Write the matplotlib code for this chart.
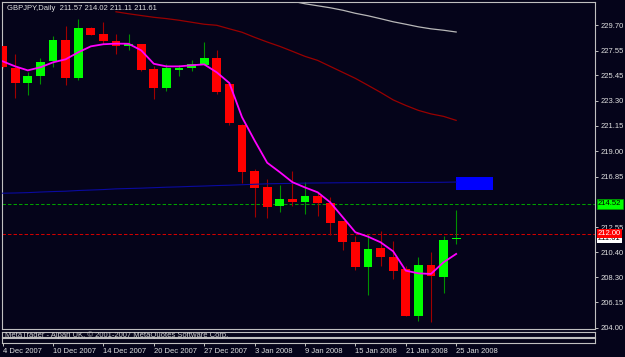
import numpy as np
import matplotlib
matplotlib.use('Agg')
import matplotlib.pyplot as plt
from matplotlib.patches import Rectangle
from matplotlib.transforms import blended_transform_factory

plt.rcParams.update({'font.family': 'Liberation Sans', 'font.size': 5.5})

# ---- datos (GBPJPY diario) ----
symbol_title = "GBPJPY,Daily  211.57 214.02 211.11 211.61"
opens  = [227.91, 226.07, 224.77, 225.42, 226.66, 228.43, 225.25, 229.51, 228.96, 228.34,
          228.00, 228.11, 226.02, 224.40, 225.96, 226.07, 226.36, 226.95, 224.74, 221.25,
          217.30, 215.94, 214.32, 214.95, 214.72, 215.23, 214.58, 213.05, 211.26, 209.13,
          210.75, 210.04, 208.99, 205.02, 209.36, 208.34, 211.57]
highs  = [227.95, 227.29, 225.73, 226.95, 228.77, 229.62, 230.21, 229.55, 229.96, 229.00,
          229.00, 228.15, 226.21, 226.44, 226.36, 226.78, 228.28, 227.57, 224.88, 221.30,
          217.51, 216.66, 216.14, 217.28, 216.37, 215.51, 215.09, 213.11, 211.83, 211.97,
          212.26, 211.40, 209.28, 209.98, 210.41, 211.83, 214.02]
lows   = [226.10, 223.55, 223.74, 224.68, 226.15, 224.60, 225.02, 228.85, 228.09, 227.23,
          227.57, 225.81, 223.40, 224.11, 225.42, 225.79, 226.30, 223.89, 221.19, 216.26,
          213.45, 213.30, 213.87, 214.32, 213.68, 213.47, 211.89, 210.61, 208.91, 206.81,
          209.28, 208.14, 205.00, 204.60, 204.45, 206.92, 211.11]
closes = [226.15, 224.77, 225.42, 226.61, 228.43, 225.25, 229.51, 228.91, 228.34, 227.97,
          228.11, 225.93, 224.40, 226.07, 226.07, 226.41, 226.95, 224.03, 221.39, 217.22,
          215.89, 214.24, 214.95, 214.72, 215.23, 214.58, 212.88, 211.32, 209.13, 210.70,
          210.04, 208.79, 205.02, 209.36, 208.43, 211.49, 211.61]

# medias moviles
ma_fast = [226.64, 226.21, 225.87, 226.13, 226.55, 226.81, 227.40, 227.91, 228.09, 228.14,
           228.13, 227.57, 226.43, 226.21, 226.21, 226.30, 226.38, 225.70, 224.79, 221.90,
           219.91, 218.02, 217.22, 216.37, 215.92, 215.51, 214.66, 213.39, 212.11, 211.74,
           211.26, 210.49, 208.85, 208.62, 208.57, 209.56, 210.27]
ma_mid = [np.nan]*9 + [230.85, 230.68, 230.53, 230.38, 230.27, 230.13, 229.96, 229.79, 229.70,
          229.40, 229.11, 228.68, 228.28, 227.91, 227.49, 227.06, 226.72, 226.21, 225.70,
          225.19, 224.60, 224.00, 223.36, 222.89, 222.47, 222.17, 221.96, 221.62]
ma_slow = [np.nan]*23 + [231.75, 231.53, 231.36, 231.19, 230.98, 230.72, 230.51, 230.26,
           230.00, 229.79, 229.57, 229.40, 229.28, 229.13]
ma_long = [215.43, 215.45, 215.48, 215.53, 215.57, 215.60, 215.66, 215.70, 215.74, 215.80,
           215.83, 215.86, 215.90, 215.94, 215.97, 216.01, 216.04, 216.08, 216.11, 216.15,
           216.19, 216.23, 216.25, 216.27, 216.29, 216.30, 216.31, 216.32, 216.33, 216.33,
           216.34, 216.34, 216.34, 216.35, 216.35, 216.36, 216.38]

# niveles y caja
level_green = 214.52
level_red = 212.00
last_price = 211.61
box_start, box_end = 36.0, 38.94
box_low, box_high = 215.74, 216.85

price_ticks = [229.70, 227.55, 225.45, 223.30, 221.15, 219.00, 216.85,
               212.55, 210.40, 208.30, 206.15, 204.00]
date_ticks = [0, 4, 8, 12, 16, 20, 24, 28, 32, 36]
date_labels = ["4 Dec 2007", "10 Dec 2007", "14 Dec 2007", "20 Dec 2007", "27 Dec 2007",
               "3 Jan 2008", "9 Jan 2008", "15 Jan 2008", "21 Jan 2008", "25 Jan 2008"]

# ---- figura ----
W, H = 625, 357
bg = '#05041a'
frame = '#c0c0c0'
txt = '#e0e0e0'

fig = plt.figure(figsize=(W/100, H/100), dpi=100, facecolor=bg)
ax  = fig.add_axes([2/W, (H-329)/H, 593/W, 327/H], facecolor=bg)
ax1 = fig.add_axes([2/W, (H-336.7)/H, 593/W, 5/H], facecolor=bg)
ax2 = fig.add_axes([2/W, (H-343.3)/H, 593/W, 5/H], facecolor=bg)

x = np.arange(len(opens))
o, h, l, c = map(np.array, (opens, highs, lows, closes))
up = c >= o

# velas
ax.vlines(x[up], l[up], h[up], color='#009000', lw=0.8, zorder=2)
ax.vlines(x[~up], l[~up], h[~up], color='#a00000', lw=0.8, zorder=2)
body = np.maximum(np.abs(c-o), 0.15)
bottom = np.where(np.abs(c-o) < 0.15, (o+c)/2 - 0.075, np.minimum(o, c))
ax.bar(x[up], body[up], bottom=bottom[up], width=0.69, color='#00ff00', lw=0, zorder=3)
ax.bar(x[~up], body[~up], bottom=bottom[~up], width=0.69, color='#ff0000', lw=0, zorder=3)

# medias
ax.plot(x, ma_long, color='#0a0aa0', lw=0.8, zorder=4)
ax.plot(x, ma_mid, color='#990000', lw=0.9, zorder=4)
ax.plot(x, ma_slow, color='#b8b8b8', lw=0.9, zorder=4)
ax.plot(x, ma_fast, color='#ff00ff', lw=1.3, zorder=5)

ax.add_patch(Rectangle((box_start, box_low), box_end-box_start, box_high-box_low,
                       color='#0000ff', lw=0, zorder=3))

ax.axhline(level_green, color='#00a000', lw=0.75, ls=(0, (3.3, 2)), zorder=1)
ax.axhline(level_red, color='#d00000', lw=0.75, ls=(0, (3.3, 2)), zorder=1)

ax.set_xlim(-0.048, 47.02)
ax.set_ylim(203.89, 231.68)

# eje de precios
ax.yaxis.tick_right()
ax.set_yticks(price_ticks)
ax.set_yticklabels([f'{v:.2f}' for v in price_ticks])
ax.tick_params(axis='y', direction='out', length=2.2, width=0.7, color=frame,
               labelcolor=txt, pad=1.5, labelsize=5.5)
ax.set_xticks([])

tr = blended_transform_factory(ax.transAxes, ax.transData)
lab = dict(transform=tr, fontsize=5.5, va='center', ha='left', clip_on=False)
ax.text(1.005, last_price, f'{last_price:.2f}', color='black', zorder=10,
        bbox=dict(fc='white', ec='none', pad=0.9), **lab)
ax.text(1.005, level_red, f'{level_red:.2f}', color='white', zorder=11,
        bbox=dict(fc='#ff0000', ec='none', pad=0.9), **lab)
ax.text(1.005, level_green, f'{level_green:.2f}', color='black', zorder=11,
        bbox=dict(fc='#00ff00', ec='#00a000', lw=0.5, pad=0.9), **lab)

ax.text(5/593, 1-6/327, symbol_title, transform=ax.transAxes, color=txt,
        fontsize=5.5, va='center', ha='left')

for a in (ax, ax1, ax2):
    for s in a.spines.values():
        s.set_color(frame)
        s.set_linewidth(0.8)

for a in (ax1, ax2):
    a.set_xlim(ax.get_xlim())
    a.set_yticks([])
ax1.set_xticks([])

ax2.set_xticks(date_ticks)
ax2.set_xticklabels(date_labels)
ax2.tick_params(axis='x', direction='out', length=2.2, width=0.7, color=frame,
                labelcolor=txt, pad=1.5, labelsize=5.5)
for t in ax2.get_xticklabels():
    t.set_ha('left')

fig.text(5/W, 1-335.5/H, "MetaTrader - Alpari UK, \u00a9 2001-2007 MetaQuotes Software Corp.",
         color='#d0d0d0', fontsize=5.5, va='center', ha='left')

fig.savefig('out.png', dpi=100, facecolor=bg)
